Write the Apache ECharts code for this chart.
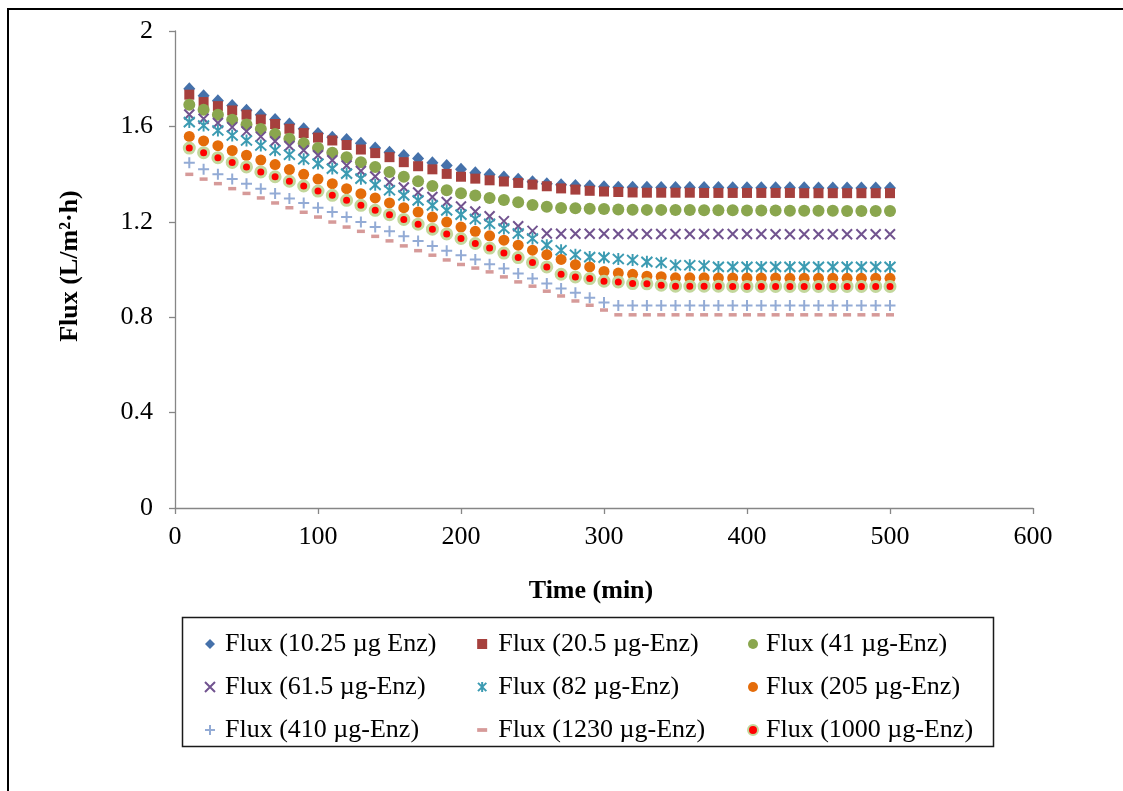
<!DOCTYPE html>
<html>
<head>
<meta charset="utf-8">
<title>Flux vs Time</title>
<script src="https://cdn.jsdelivr.net/npm/echarts@6/dist/echarts.min.js"></script>
<style>
    html, body { margin: 0; padding: 0; background: #fff; }
    #chart_show { width: 1123px; height: 791px; }
</style>
</head>
<body>
<div id="chart_show"></div>
<script>
// time (min)
var times = [10, 20, 30, 40, 50, 60, 70, 80, 90, 100,
    110, 120, 130, 140, 150, 160, 170, 180, 190, 200,
    210, 220, 230, 240, 250, 260, 270, 280, 290, 300,
    310, 320, 330, 340, 350, 360, 370, 380, 390, 400,
    410, 420, 430, 440, 450, 460, 470, 480, 490, 500];

// flux (L/m2.h), one list per enzyme dose
var flux10_25 = [1.758, 1.728, 1.708, 1.688, 1.668, 1.649, 1.629, 1.610, 1.590, 1.570,
    1.554, 1.545, 1.529, 1.509, 1.492, 1.478, 1.465, 1.448, 1.436, 1.420,
    1.406, 1.398, 1.388, 1.378, 1.368, 1.360, 1.355, 1.352, 1.350, 1.347,
    1.345, 1.345, 1.345, 1.344, 1.344, 1.344, 1.344, 1.344, 1.343, 1.343,
    1.343, 1.343, 1.343, 1.343, 1.342, 1.342, 1.342, 1.342, 1.342, 1.342];

var flux20_5 = [1.733, 1.702, 1.685, 1.667, 1.649, 1.629, 1.610, 1.590, 1.572, 1.553,
    1.541, 1.522, 1.503, 1.488, 1.471, 1.450, 1.433, 1.420, 1.401, 1.389,
    1.381, 1.374, 1.369, 1.363, 1.356, 1.349, 1.340, 1.335, 1.330, 1.327,
    1.325, 1.323, 1.322, 1.322, 1.322, 1.322, 1.321, 1.321, 1.321, 1.321,
    1.321, 1.321, 1.321, 1.320, 1.320, 1.320, 1.320, 1.320, 1.320, 1.320];

var flux41 = [1.691, 1.670, 1.649, 1.628, 1.608, 1.589, 1.568, 1.548, 1.529, 1.509,
    1.490, 1.471, 1.450, 1.430, 1.409, 1.389, 1.370, 1.350, 1.332, 1.320,
    1.310, 1.300, 1.291, 1.282, 1.270, 1.263, 1.258, 1.257, 1.255, 1.254,
    1.252, 1.251, 1.250, 1.250, 1.249, 1.249, 1.248, 1.248, 1.248, 1.247,
    1.247, 1.247, 1.246, 1.246, 1.246, 1.246, 1.245, 1.245, 1.245, 1.245];

var flux61_5 = [1.650, 1.632, 1.614, 1.597, 1.579, 1.557, 1.538, 1.518, 1.500, 1.479,
    1.458, 1.436, 1.413, 1.390, 1.366, 1.344, 1.323, 1.304, 1.283, 1.264,
    1.243, 1.223, 1.203, 1.181, 1.162, 1.151, 1.150, 1.150, 1.150, 1.150,
    1.149, 1.149, 1.149, 1.149, 1.149, 1.149, 1.149, 1.149, 1.149, 1.149,
    1.149, 1.148, 1.148, 1.148, 1.148, 1.148, 1.148, 1.148, 1.148, 1.148];

var flux82 = [1.618, 1.604, 1.583, 1.562, 1.541, 1.520, 1.500, 1.481, 1.462, 1.444,
    1.423, 1.402, 1.381, 1.355, 1.332, 1.311, 1.290, 1.269, 1.248, 1.230,
    1.212, 1.192, 1.172, 1.151, 1.130, 1.102, 1.081, 1.062, 1.052, 1.050,
    1.044, 1.040, 1.032, 1.028, 1.018, 1.018, 1.016, 1.011, 1.011, 1.011,
    1.011, 1.011, 1.011, 1.011, 1.011, 1.011, 1.011, 1.011, 1.011, 1.011];

var flux205 = [1.558, 1.539, 1.519, 1.499, 1.479, 1.459, 1.440, 1.419, 1.399, 1.379,
    1.360, 1.339, 1.318, 1.300, 1.279, 1.259, 1.241, 1.220, 1.199, 1.178,
    1.160, 1.141, 1.123, 1.102, 1.081, 1.062, 1.042, 1.020, 1.011, 0.992,
    0.985, 0.980, 0.972, 0.970, 0.965, 0.965, 0.965, 0.964, 0.964, 0.964,
    0.964, 0.964, 0.963, 0.963, 0.963, 0.963, 0.963, 0.963, 0.963, 0.963];

var flux410 = [1.448, 1.420, 1.399, 1.379, 1.360, 1.339, 1.319, 1.298, 1.279, 1.259,
    1.241, 1.220, 1.199, 1.178, 1.160, 1.139, 1.120, 1.099, 1.079, 1.060,
    1.042, 1.022, 1.004, 0.983, 0.962, 0.941, 0.920, 0.902, 0.882, 0.862,
    0.849, 0.849, 0.849, 0.849, 0.849, 0.849, 0.849, 0.849, 0.849, 0.849,
    0.849, 0.849, 0.849, 0.849, 0.849, 0.849, 0.849, 0.849, 0.849, 0.849];

var flux1230 = [1.399, 1.379, 1.360, 1.339, 1.319, 1.300, 1.279, 1.259, 1.240, 1.220,
    1.199, 1.178, 1.160, 1.139, 1.120, 1.099, 1.079, 1.060, 1.040, 1.021,
    1.006, 0.990, 0.969, 0.948, 0.930, 0.909, 0.889, 0.868, 0.850, 0.830,
    0.810, 0.810, 0.810, 0.810, 0.810, 0.810, 0.810, 0.810, 0.810, 0.810,
    0.810, 0.810, 0.810, 0.810, 0.810, 0.810, 0.810, 0.810, 0.810, 0.810];

var flux1000 = [1.509, 1.490, 1.469, 1.449, 1.430, 1.409, 1.389, 1.370, 1.350, 1.329,
    1.311, 1.290, 1.269, 1.248, 1.230, 1.210, 1.190, 1.169, 1.149, 1.130,
    1.109, 1.090, 1.069, 1.050, 1.029, 1.011, 0.980, 0.969, 0.962, 0.951,
    0.948, 0.941, 0.940, 0.934, 0.930, 0.930, 0.930, 0.930, 0.929, 0.929,
    0.929, 0.929, 0.929, 0.929, 0.929, 0.929, 0.929, 0.929, 0.929, 0.929];

var seriesNames = ['Flux (10.25 µg Enz)', 'Flux (20.5 µg-Enz)', 'Flux (41 µg-Enz)',
    'Flux (61.5 µg-Enz)', 'Flux (82 µg-Enz)', 'Flux (205 µg-Enz)',
    'Flux (410 µg-Enz)', 'Flux (1230 µg-Enz)', 'Flux (1000 µg-Enz)'];

var xTicks = { min: 0, max: 600, step: 100 };
var yTicks = { min: 0, max: 2, step: 0.4 };

(function () {
    var FluxChart = {
        opts: {
            font: '"Liberation Serif", "Times New Roman", serif',
            axisColor: '#868686'
        },
        init: function () {
            var myChart = echarts.init(document.getElementById('chart_show'), null, { renderer: 'canvas' });
            myChart.setOption(this.formatChart());
        },
        pairs: function (ys) {
            return times.map(function (t, i) {
                return [t, ys[i]];
            });
        },
        // marker look for each series, same order as seriesNames
        markers: function () {
            return [
                { values: flux10_25, symbol: 'diamond', size: [12, 13], color: '#4571AA' },
                { values: flux20_5, symbol: 'rect', size: 10, color: '#A6403D' },
                { values: flux41, symbol: 'circle', size: 12, color: '#8AA64E' },
                { values: flux61_5, symbol: 'path://M0,0L10,10M10,0L0,10', size: 10, color: '#71538F', stroke: 2 },
                { values: flux82, symbol: 'path://M0,0L10,10M10,0L0,10M5,-1L5,11', size: [11, 12], color: '#3C9BB2', stroke: 2 },
                { values: flux205, symbol: 'circle', size: 11, color: '#E46C0A' },
                { values: flux410, symbol: 'path://M5,0L5,10M0,5L10,5', size: 11, color: '#93ABD5', stroke: 2 },
                { values: flux1230, symbol: 'rect', size: [8, 3.5], color: '#D69A99', icon: 'path://M0,0H8V3H0Z' },
                { values: flux1000, symbol: 'circle', size: 10, color: '#FF0000', border: '#C3D79C', borderWidth: 3 }
            ];
        },
        formatChart: function () {
            var content = this;
            var font = content.opts.font;
            var marks = content.markers();

            var series = marks.map(function (m, i) {
                var style = { color: m.color, opacity: 1 };
                if (m.stroke) {
                    style.borderColor = m.color;
                    style.borderWidth = m.stroke;
                }
                if (m.border) {
                    style.borderColor = m.border;
                    style.borderWidth = m.borderWidth;
                }
                return {
                    name: seriesNames[i],
                    type: 'scatter',
                    symbol: m.symbol,
                    symbolSize: m.size,
                    itemStyle: style,
                    data: content.pairs(m.values)
                };
            });

            var legendItem = function (i) {
                var item = { name: seriesNames[i] };
                if (marks[i].icon) {
                    item.icon = marks[i].icon;
                }
                return item;
            };

            var legendCol = function (left, cols, pad) {
                return {
                    orient: 'vertical',
                    left: left,
                    top: 631,
                    padding: 0,
                    itemGap: 17,
                    itemWidth: 10,
                    itemHeight: 10,
                    data: cols.map(legendItem),
                    textStyle: {
                        fontFamily: font,
                        fontSize: 26,
                        color: '#000',
                        lineHeight: 26,
                        padding: [0, 0, 0, pad]
                    }
                };
            };

            return {
                animation: false,
                backgroundColor: '#fff',
                grid: {
                    left: 175,
                    right: 90,
                    top: 31,
                    bottom: 283
                },
                legend: [
                    legendCol(204, [0, 3, 6], 5),
                    legendCol(477, [1, 4, 7], 6),
                    legendCol(747, [2, 5, 8], 3)
                ],
                xAxis: {
                    type: 'value',
                    min: xTicks.min,
                    max: xTicks.max,
                    interval: xTicks.step,
                    splitLine: { show: false },
                    axisLine: { lineStyle: { color: content.opts.axisColor, width: 1.3 } },
                    axisTick: { length: 6, lineStyle: { color: content.opts.axisColor, width: 1.3 } },
                    axisLabel: {
                        margin: 16,
                        fontFamily: font,
                        fontSize: 26,
                        color: '#000'
                    }
                },
                yAxis: {
                    type: 'value',
                    min: yTicks.min,
                    max: yTicks.max,
                    interval: yTicks.step,
                    splitLine: { show: false },
                    axisLine: { show: true, lineStyle: { color: content.opts.axisColor, width: 1.3 } },
                    axisTick: { show: true, length: 6, lineStyle: { color: content.opts.axisColor, width: 1.3 } },
                    axisLabel: {
                        margin: 22,
                        fontFamily: font,
                        fontSize: 26,
                        color: '#000',
                        formatter: function (v) {
                            return String(Math.round(v * 10) / 10);
                        }
                    }
                },
                graphic: [
                    {
                        type: 'rect',
                        shape: { x: 8, y: 9, width: 1300, height: 1000 },
                        style: { fill: 'none', stroke: '#000', lineWidth: 2 },
                        silent: true
                    },
                    {
                        type: 'rect',
                        shape: { x: 182.5, y: 617.5, width: 811, height: 129 },
                        style: { fill: 'none', stroke: '#1a1a1a', lineWidth: 1.5 },
                        silent: true
                    },
                    {
                        type: 'text',
                        x: 591,
                        y: 591,
                        style: {
                            text: 'Time (min)',
                            fontFamily: font,
                            fontSize: 26,
                            fontWeight: 'bold',
                            fill: '#000',
                            align: 'center',
                            verticalAlign: 'middle'
                        }
                    },
                    {
                        type: 'text',
                        x: 70,
                        y: 266,
                        rotation: Math.PI / 2,
                        style: {
                            text: 'Flux (L/m²·h)',
                            fontFamily: font,
                            fontSize: 26,
                            fontWeight: 'bold',
                            fill: '#000',
                            align: 'center',
                            verticalAlign: 'middle'
                        }
                    }
                ],
                series: series
            };
        }
    };

    FluxChart.init();
})();
</script>
</body>
</html>
